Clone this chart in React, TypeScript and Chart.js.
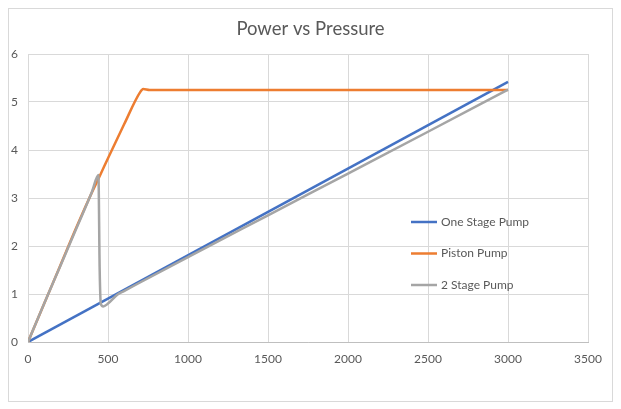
import React, { useEffect, useRef } from "react";
import { Chart, registerables } from "chart.js";

Chart.register(...registerables);

const chartTitle = "Power vs Pressure";
const seriesNames = ["One Stage Pump", "Piston Pump", "2 Stage Pump"];
const seriesColors = ["#4472C4", "#ED7D31", "#A5A5A5"];

const oneStageX = [0, 3000];
const oneStageY = [0, 5.42];

const pistonX = [0, 100, 200, 300, 400, 450, 500, 600, 700, 720, 760, 1000, 1500, 2000, 2500, 3000];
const pistonY = [0, 0.79, 1.58, 2.37, 3.12, 3.47, 3.83, 4.53, 5.2, 5.27, 5.25, 5.25, 5.25, 5.25, 5.25, 5.25];

const twoStageX = [0, 100, 200, 300, 400, 440, 448, 455, 470, 500, 560, 600, 700, 1000, 1500, 2000, 2500, 3000];
const twoStageY = [0, 0.79, 1.57, 2.35, 3.13, 3.48, 1.5, 0.8, 0.74, 0.8, 0.99, 1.06, 1.24, 1.77, 2.64, 3.51, 4.38, 5.26];

const xMin = 0, xMax = 3500, xStep = 500;
const yMin = 0, yMax = 6, yStep = 1;

const FONT = "Lato, Carlito, 'Liberation Sans', sans-serif";
const TEXT = "#595959";

const toPts = (xs: number[], ys: number[]) => xs.map((x, i) => ({ x, y: ys[i] }));

const titlePlugin = {
  id: "customTitle",
  afterDraw(chart: any) {
    const ctx = chart.ctx;
    ctx.save();
    ctx.font = `18.5px ${FONT}`;
    ctx.fillStyle = TEXT;
    ctx.textAlign = "center";
    ctx.textBaseline = "middle";
    ctx.fillText(chartTitle, chart.width / 2, 20);
    ctx.restore();
  },
};

const legendPlugin = {
  id: "customLegend",
  afterDraw(chart: any) {
    const ctx = chart.ctx;
    const a = chart.chartArea;
    ctx.save();
    ctx.font = `12px ${FONT}`;
    ctx.textBaseline = "middle";
    ctx.textAlign = "left";
    chart.data.datasets.forEach((ds: any, i: number) => {
      const y = a.top + 168 + i * 31.5;
      const x0 = a.left + 383;
      ctx.strokeStyle = ds.borderColor;
      ctx.lineWidth = 2.5;
      ctx.beginPath();
      ctx.moveTo(x0, y);
      ctx.lineTo(x0 + 26, y);
      ctx.stroke();
      ctx.fillStyle = TEXT;
      ctx.fillText(ds.label, x0 + 30, y);
    });
    ctx.restore();
  },
};

export default function App() {
  const ref = useRef<HTMLCanvasElement | null>(null);
  useEffect(() => {
    if (!ref.current) return;
    const data = [toPts(oneStageX, oneStageY), toPts(pistonX, pistonY), toPts(twoStageX, twoStageY)];
    const chart = new Chart(ref.current, {
      type: "scatter",
      data: {
        datasets: data.map((d, i) => ({
          label: seriesNames[i],
          data: d,
          showLine: true,
          borderColor: seriesColors[i],
          backgroundColor: seriesColors[i],
          borderWidth: 2.5,
          pointRadius: 0,
          cubicInterpolationMode: "monotone" as const,
          order: 2 - i,
        })),
      },
      options: {
        animation: false,
        responsive: false,
        maintainAspectRatio: false,
        layout: { padding: { top: 45, right: 24, left: 0, bottom: 0 } },
        plugins: {
          legend: { display: false },
          title: { display: false },
          tooltip: { enabled: false },
        },
        scales: {
          x: {
            type: "linear",
            min: xMin,
            max: xMax,
            ticks: {
              stepSize: xStep,
              color: TEXT,
              font: { family: FONT, size: 12 },
              padding: 10,
              maxRotation: 0,
              callback: (v: any) => String(v),
            },
            grid: { color: "#d9d9d9", drawTicks: false },
            border: { color: "#bfbfbf" },
            afterFit: (s: any) => { s.height = 59; },
          },
          y: {
            type: "linear",
            min: yMin,
            max: yMax,
            ticks: {
              stepSize: yStep,
              color: TEXT,
              font: { family: FONT, size: 12 },
              padding: 10,
              callback: (v: any) => String(v),
            },
            grid: { color: "#d9d9d9", drawTicks: false },
            border: { display: false },
            afterFit: (s: any) => { s.width = 19; },
          },
        },
      },
      plugins: [titlePlugin, legendPlugin],
    });
    return () => chart.destroy();
  }, []);
  return (
    <div style={{ width: 603, height: 392, border: "1px solid #d9d9d9", background: "#fff" }}>
      <canvas ref={ref} width={603} height={392} style={{ display: "block" }} />
    </div>
  );
}
